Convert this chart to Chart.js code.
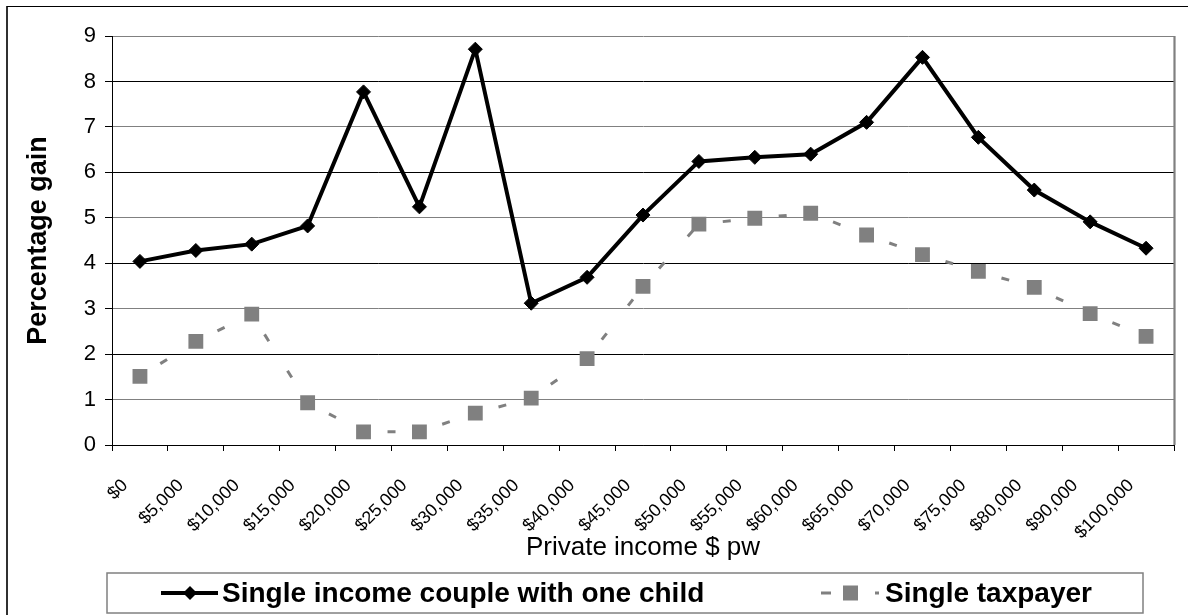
<!DOCTYPE html>
<html>
<head>
<meta charset="utf-8">
<script src="https://cdn.jsdelivr.net/npm/chart.js@4/dist/chart.umd.min.js"></script>
<style>
  html, body { margin: 0; padding: 0; background: #fff; }
  #wrap { position: relative; width: 1188px; height: 615px; }
</style>
</head>
<body>
<div id="wrap"><canvas id="chart" width="1188" height="615"></canvas></div>
<script>
// Income bands ($ per week)
const incomeBands = ['$0', '$5,000', '$10,000', '$15,000', '$20,000', '$25,000', '$30,000',
  '$35,000', '$40,000', '$45,000', '$50,000', '$55,000', '$60,000', '$65,000', '$70,000',
  '$75,000', '$80,000', '$90,000', '$100,000'];

// Percentage gain by household type
const coupleOneChild = [4.04, 4.28, 4.42, 4.82, 7.77, 5.24, 8.71, 3.12, 3.69, 5.06,
  6.24, 6.33, 6.40, 7.10, 8.53, 6.77, 5.61, 4.91, 4.33];
const singleTaxpayer = [1.51, 2.28, 2.88, 0.93, 0.29, 0.29, 0.70, 1.03, 1.90, 3.49,
  4.86, 4.99, 5.10, 4.62, 4.19, 3.82, 3.47, 2.89, 2.39];

const seriesNames = ['Single income couple with one child', 'Single taxpayer'];
const yTicks = [0, 1, 2, 3, 4, 5, 6, 7, 8, 9];

const FONT = 'Liberation Sans, Arial, Helvetica, sans-serif';
const GREY = '#808080';

// Frame around the whole figure and the right edge of the plot area
const framePlugin = {
  id: 'frame',
  beforeDraw(chart) {
    const ctx = chart.ctx;
    ctx.save();
    ctx.fillStyle = '#fff';
    ctx.fillRect(0, 0, chart.width, chart.height);
    ctx.strokeStyle = '#303030';
    ctx.lineWidth = 2;
    ctx.beginPath();
    ctx.moveTo(7, chart.height);
    ctx.lineTo(7, 6);
    ctx.stroke();
    ctx.strokeStyle = '#000';
    ctx.lineWidth = 1.2;
    ctx.beginPath();
    ctx.moveTo(7, 6.5);
    ctx.lineTo(chart.width, 6.5);
    ctx.stroke();
    ctx.restore();
  },
  beforeDatasetsDraw(chart) {
    const { ctx, chartArea } = chart;
    ctx.save();
    ctx.strokeStyle = GREY;
    ctx.lineWidth = 2.2;
    ctx.beginPath();
    ctx.moveTo(chartArea.right + 0.5, chartArea.top);
    ctx.lineTo(chartArea.right + 0.5, chartArea.bottom);
    ctx.stroke();
    ctx.restore();
  }
};

// Boxed legend along the bottom, one row
const boxLegendPlugin = {
  id: 'boxLegend',
  afterDraw(chart) {
    const ctx = chart.ctx;
    const ds = chart.data.datasets;
    const top = 573, bottom = 613, left = 107, right = 1143;
    const cy = (top + bottom) / 2;
    ctx.save();
    ctx.fillStyle = '#fff';
    ctx.fillRect(left, top, right - left, bottom - top);
    ctx.strokeStyle = GREY;
    ctx.lineWidth = 1.5;
    ctx.strokeRect(left, top, right - left, bottom - top);

    // black line with diamond
    ctx.strokeStyle = ds[0].borderColor;
    ctx.lineWidth = ds[0].borderWidth;
    ctx.beginPath();
    ctx.moveTo(161, cy);
    ctx.lineTo(218, cy);
    ctx.stroke();
    ctx.fillStyle = ds[0].pointBackgroundColor;
    ctx.beginPath();
    ctx.moveTo(190, cy - 7);
    ctx.lineTo(197, cy);
    ctx.lineTo(190, cy + 7);
    ctx.lineTo(183, cy);
    ctx.closePath();
    ctx.fill();

    // grey dashed line with square
    ctx.strokeStyle = ds[1].borderColor;
    ctx.lineWidth = ds[1].borderWidth;
    ctx.setLineDash([10, 44]);
    ctx.beginPath();
    ctx.moveTo(821, cy);
    ctx.lineTo(879, cy);
    ctx.stroke();
    ctx.setLineDash([]);
    ctx.fillStyle = ds[1].pointBackgroundColor;
    ctx.fillRect(843, cy - 7.5, 15, 15);

    ctx.fillStyle = '#000';
    ctx.font = 'bold 28px ' + FONT;
    ctx.textBaseline = 'middle';
    ctx.textAlign = 'left';
    ctx.fillText(ds[0].label, 222, cy + 1);
    ctx.fillText(ds[1].label, 885, cy + 1);
    ctx.restore();
  }
};

new Chart(document.getElementById('chart'), {
  type: 'line',
  data: {
    labels: incomeBands,
    datasets: [
      {
        label: seriesNames[0],
        data: coupleOneChild,
        borderColor: '#000',
        borderWidth: 4,
        pointStyle: 'rectRot',
        pointRadius: 7,
        pointBackgroundColor: '#000',
        pointBorderColor: '#000',
        pointBorderWidth: 1,
        tension: 0
      },
      {
        label: seriesNames[1],
        data: singleTaxpayer,
        borderColor: GREY,
        borderWidth: 3,
        borderDash: [8, 35],
        borderCapStyle: 'butt',
        pointStyle: 'rect',
        pointRadius: 10.5,
        pointBackgroundColor: GREY,
        pointBorderColor: GREY,
        pointBorderWidth: 0,
        tension: 0,
        // stroke each segment on its own so the dash pattern restarts at every point
        // (offsets 19 and 62 differ by one full period, so the pattern is identical)
        segment: {
          borderDashOffset: c => (c.p0DataIndex % 2 ? 62 : 19)
        }
      }
    ]
  },
  options: {
    responsive: false,
    animation: false,
    events: [],
    layout: { padding: { left: 22, right: 14, top: 36, bottom: 52 } },
    plugins: {
      legend: { display: false },
      tooltip: { enabled: false },
      title: { display: false }
    },
    scales: {
      x: {
        type: 'category',
        offset: true,
        grid: {
          offset: true,
          drawOnChartArea: false,
          tickLength: 6,
          color: '#000',
          tickColor: '#000',
          lineWidth: 1
        },
        border: { color: '#000', width: 1 },
        ticks: {
          autoSkip: false,
          maxRotation: 45,
          minRotation: 45,
          color: '#000',
          padding: 24,
          labelOffset: -15,
          font: { family: FONT, size: 18 }
        },
        title: {
          display: true,
          text: 'Private income $ pw',
          color: '#000',
          padding: 0,
          font: { family: FONT, size: 26 }
        },
        afterFit(scale) { scale.height = 118; }
      },
      y: {
        min: 0,
        max: 9,
        afterBuildTicks(scale) { scale.ticks = yTicks.map(v => ({ value: v })); },
        grid: {
          color: c => (c.tick && c.tick.value % 2 ? GREY : '#000'),
          tickColor: '#000',
          tickLength: 7,
          lineWidth: 1
        },
        border: { color: '#000', width: 1 },
        ticks: {
          color: '#000',
          padding: 9,
          font: { family: FONT, size: 22 }
        },
        title: {
          display: true,
          text: 'Percentage gain',
          color: '#000',
          padding: 0,
          font: { family: FONT, size: 27, weight: 'bold' }
        },
        afterFit(scale) { scale.width = 90; }
      }
    }
  },
  plugins: [framePlugin, boxLegendPlugin]
});
</script>
</body>
</html>
